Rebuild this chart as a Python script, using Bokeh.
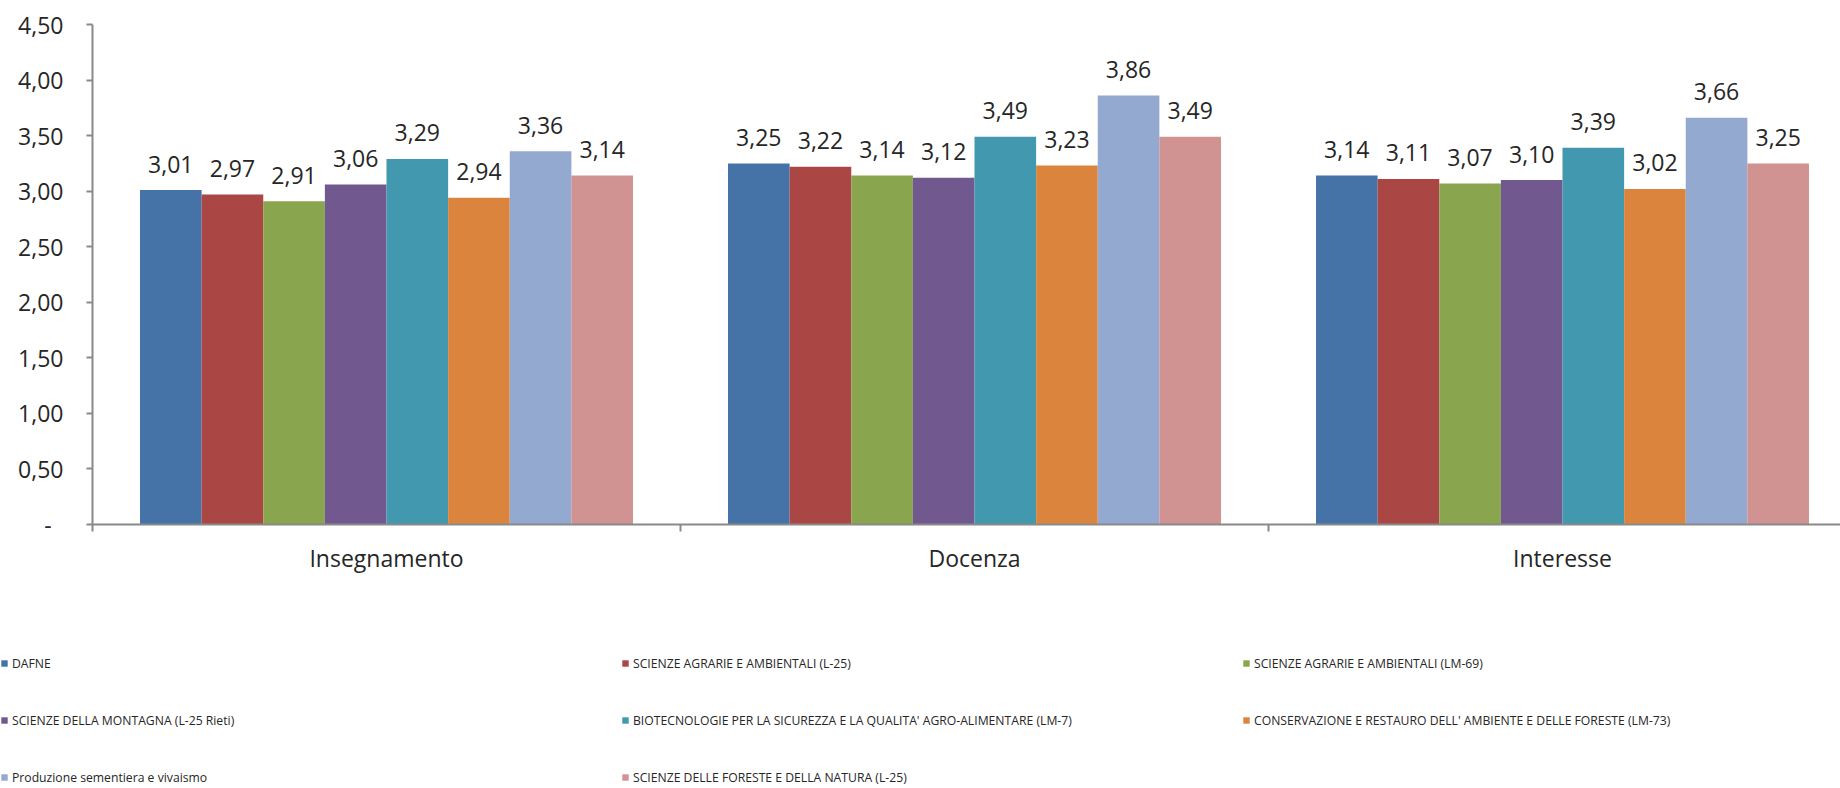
from bokeh.plotting import figure
from bokeh.layouts import column
from bokeh.models import (Range1d, LinearAxis, FixedTicker, Legend, LegendItem,
                          ColumnDataSource)
from bokeh.core.properties import value
from bokeh.embed import file_html
from bokeh.resources import INLINE

# ---------------- data ----------------
categories = ["Insegnamento", "Docenza", "Interesse"]
series_names = [
    "DAFNE",
    "SCIENZE AGRARIE E AMBIENTALI (L-25)",
    "SCIENZE AGRARIE E AMBIENTALI (LM-69)",
    "SCIENZE DELLA MONTAGNA (L-25 Rieti)",
    "BIOTECNOLOGIE PER LA SICUREZZA E LA QUALITA' AGRO-ALIMENTARE (LM-7)",
    "CONSERVAZIONE E RESTAURO DELL' AMBIENTE E DELLE FORESTE (LM-73)",
    "Produzione sementiera e vivaismo",
    "SCIENZE DELLE FORESTE E DELLA NATURA (L-25)",
]
dafne = [3.01, 3.25, 3.14]
agrarie_l25 = [2.97, 3.22, 3.11]
agrarie_lm69 = [2.91, 3.14, 3.07]
montagna = [3.06, 3.12, 3.10]
biotecnologie = [3.29, 3.49, 3.39]
conservazione = [2.94, 3.23, 3.02]
produzione = [3.36, 3.86, 3.66]
foreste = [3.14, 3.49, 3.25]
series_values = [dafne, agrarie_l25, agrarie_lm69, montagna,
                 biotecnologie, conservazione, produzione, foreste]
y_ticks = [0, 0.5, 1.0, 1.5, 2.0, 2.5, 3.0, 3.5, 4.0, 4.5]
y_tick_labels = ["-\u00a0\u00a0", "0,50", "1,00", "1,50", "2,00", "2,50",
                 "3,00", "3,50", "4,00", "4,50"]

colors = ["#4572A7", "#AA4643", "#89A54E", "#71588F",
          "#4198AF", "#DB843D", "#93A9CF", "#D19392"]

# ---------------- layout ----------------
W = 1840
H_MAIN, H_LEG = 630, 158
LEFT, TOP = 92, 24
BOTTOM = H_MAIN - 524
group_px = 588.0
frame_w = W - LEFT
bar_w = 0.1048
group_pad = (1 - bar_w * len(series_names)) / 2

FONT = value("Open Sans")
TXT = "#262626"
AX = "#898989"

p = figure(width=W, height=H_MAIN, output_backend="svg", toolbar_location=None,
           x_range=Range1d(0, frame_w / group_px), y_range=Range1d(0, 4.5),
           x_axis_type=None, y_axis_type=None,
           min_border_left=LEFT, min_border_right=0,
           min_border_top=TOP, min_border_bottom=BOTTOM)
p.outline_line_color = None
p.frame_align = False

sources = []
for j, (name, vals) in enumerate(zip(series_names, series_values)):
    xs = [i + group_pad + (j + 0.5) * bar_w for i in range(len(categories))]
    src = ColumnDataSource(dict(
        x=xs, top=vals,
        lbl=[f"{v:.2f}".replace(".", ",") for v in vals]))
    sources.append(src)
    p.vbar(x="x", top="top", width=bar_w, source=src,
           fill_color=colors[j], line_color=None)
    p.text(x="x", y="top", text="lbl", source=src, text_align="center",
           text_baseline="alphabetic", y_offset=-26, text_font=FONT,
           text_font_size="23px", text_color=TXT)

# y axis
yax = LinearAxis(ticker=FixedTicker(ticks=y_ticks),
                 major_label_overrides={t: l for t, l in zip(y_ticks, y_tick_labels)},
                 axis_line_color=AX, axis_line_width=2,
                 major_tick_line_color=AX, major_tick_line_width=2,
                 major_tick_in=0, major_tick_out=6,
                 minor_tick_line_color=None,
                 major_label_standoff=23,
                 major_label_text_font="Open Sans",
                 major_label_text_font_size="23px",
                 major_label_text_color=TXT)
p.add_layout(yax, "left")

# x axis: boundary ticks
xb = list(range(len(categories) + 1))
xax = LinearAxis(ticker=FixedTicker(ticks=xb),
                 major_label_overrides={t: "" for t in xb},
                 axis_line_color=AX, axis_line_width=2,
                 major_tick_line_color=AX, major_tick_line_width=2,
                 major_tick_in=0, major_tick_out=7,
                 minor_tick_line_color=None,
                 major_label_standoff=0,
                 major_label_text_font_size="1px")
p.add_layout(xax, "below")

# x axis: category labels
xc = [i + 0.5 for i in range(len(categories))]
xax2 = LinearAxis(ticker=FixedTicker(ticks=xc),
                  major_label_overrides={t: c for t, c in zip(xc, categories)},
                  axis_line_color=None, major_tick_line_color=None,
                  minor_tick_line_color=None,
                  major_tick_in=0, major_tick_out=0,
                  major_label_standoff=10,
                  major_label_text_font="Open Sans",
                  major_label_text_font_size="23px",
                  major_label_text_color=TXT)
p.add_layout(xax2, "below")

# legend figure (renderers lie outside its visible range; only the legend shows)
pl = figure(width=W, height=H_LEG, output_backend="svg", toolbar_location=None,
            x_range=Range1d(0, 1), y_range=Range1d(100, 101),
            x_axis_type=None, y_axis_type=None,
            min_border_left=0, min_border_right=0,
            min_border_top=0, min_border_bottom=0)
pl.outline_line_color = None
pl.grid.visible = False
pl.frame_align = False
leg_renderers = []
for j, src in enumerate(sources):
    r = pl.vbar(x="x", top="top", width=bar_w, source=src,
                fill_color=colors[j], line_color=None)
    leg_renderers.append(r)

items = [LegendItem(label=n, renderers=[r]) for n, r in zip(series_names, leg_renderers)]
legend = Legend(items=items, orientation="horizontal", ncols=3,
                location=(0, 1),
                glyph_width=8, glyph_height=8, label_standoff=4,
                label_width=572, label_height=20, spacing=37,
                padding=0, margin=0,
                border_line_color=None, background_fill_alpha=0,
                label_text_font="Open Sans", label_text_font_size="12.2px",
                label_text_color=TXT)
pl.add_layout(legend)

layout = column(p, pl, spacing=0)
open("out.html", "w").write(file_html(layout, INLINE))
